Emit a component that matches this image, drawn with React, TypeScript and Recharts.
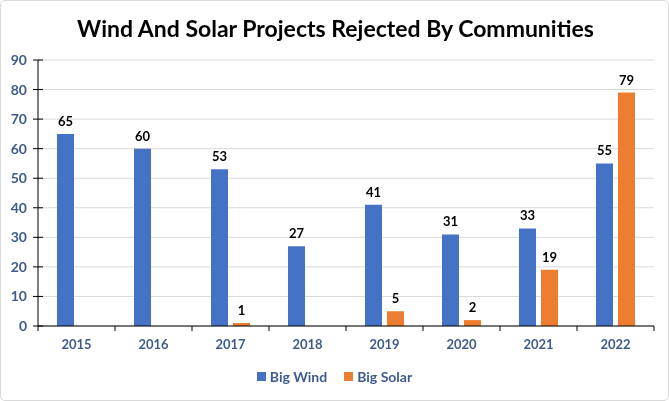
import React from 'react';
import { BarChart, Bar, XAxis, YAxis, CartesianGrid, LabelList, Legend } from 'recharts';

const years = ['2015', '2016', '2017', '2018', '2019', '2020', '2021', '2022'];
const bigWind = [65, 60, 53, 27, 41, 31, 33, 55];
const bigSolar: (number | null)[] = [null, null, 1, null, 5, 2, 19, 79];
const yTicks = [0, 10, 20, 30, 40, 50, 60, 70, 80, 90];
const seriesNames = ['Big Wind', 'Big Solar'];
const title = 'Wind And Solar Projects Rejected By Communities';

const data = years.map((year, i) => ({ year, wind: bigWind[i], solar: bigSolar[i] }));

const W = 669;
const H = 401;
const LEFT = 38;
const RIGHT = 15;
const HALF_BAND = (W - LEFT - RIGHT) / years.length / 2;
const FONT = 'Lato, "Open Sans", sans-serif';
const TICK_COLOR = '#3F5B8C';
const BLUE = '#4472C4';
const ORANGE = '#ED7D31';

const YTick = (props: any) => {
  const { x, y, payload } = props;
  const ax = x + 11;
  return (
    <g>
      <line x1={ax - 5} x2={ax + 5} y1={y} y2={y} stroke="#000" strokeWidth={1} />
      <text x={x} y={y} dy={5} textAnchor="end" fill={TICK_COLOR} fontSize={14} fontWeight={700} fontFamily={FONT}>
        {payload.value}
      </text>
    </g>
  );
};

const XTick = (props: any) => {
  const { x, y, payload, index } = props;
  const left = x - HALF_BAND;
  const right = x + HALF_BAND;
  return (
    <g>
      <line x1={left} x2={left} y1={y} y2={y + 5} stroke="#000" strokeWidth={1} />
      {index === years.length - 1 && (
        <line x1={right} x2={right} y1={y} y2={y + 5} stroke="#000" strokeWidth={1} />
      )}
      <text x={x} y={y + 23} textAnchor="middle" fill={TICK_COLOR} fontSize={13} fontWeight={700} fontFamily={FONT}>
        {payload.value}
      </text>
    </g>
  );
};

const LegendContent = () => (
  <div style={{ display: 'flex', justifyContent: 'center', alignItems: 'center', fontFamily: FONT, fontSize: 14, fontWeight: 700, color: TICK_COLOR }}>
    {[BLUE, ORANGE].map((c, i) => (
      <div key={i} style={{ display: 'flex', alignItems: 'center', marginLeft: i ? 17 : 0 }}>
        <span style={{ display: 'inline-block', width: 9, height: 9, background: c, marginRight: 4 }} />
        <span>{seriesNames[i]}</span>
      </div>
    ))}
  </div>
);

export default function App() {
  return (
    <div
      style={{
        position: 'fixed',
        left: 0,
        top: 0,
        width: W,
        height: H,
        background: '#fff',
        boxSizing: 'border-box',
        border: '1px solid #d9d9d9',
        borderRadius: 5,
        overflow: 'hidden',
      }}
    >
      <div
        style={{
          position: 'absolute',
          top: 13,
          left: 0,
          width: W,
          textAlign: 'center',
          fontFamily: FONT,
          fontWeight: 700,
          fontSize: 23,
          color: '#000',
        }}
      >
        {title}
      </div>
      <div style={{ position: 'absolute', left: -1, top: -1 }}>
        <BarChart
          width={W}
          height={H}
          data={data}
          margin={{ top: 60, right: RIGHT, left: 0, bottom: 25 }}
          barCategoryGap={19}
          barGap={5}
        >
          <CartesianGrid vertical={false} stroke="#d9d9d9" />
          <YAxis
            width={LEFT}
            domain={[0, 90]}
            ticks={yTicks}
            interval={0}
            axisLine={{ stroke: '#000' }}
            tickLine={false}
            tickSize={0}
            tickMargin={11}
            tick={<YTick />}
          />
          <XAxis
            dataKey="year"
            height={30}
            axisLine={{ stroke: '#000' }}
            tickLine={false}
            tickSize={0}
            tickMargin={0}
            interval={0}
            tick={<XTick />}
          />
          <Legend
            content={<LegendContent />}
            wrapperStyle={{ position: 'absolute', top: 368, left: 0, width: W, height: 20 }}
          />
          <Bar dataKey="wind" name={seriesNames[0]} fill={BLUE} isAnimationActive={false}>
            <LabelList dataKey="wind" position="top" offset={8} fill="#000" fontSize={13} fontWeight={700} fontFamily={FONT} />
          </Bar>
          <Bar dataKey="solar" name={seriesNames[1]} fill={ORANGE} isAnimationActive={false}>
            <LabelList dataKey="solar" position="top" offset={8} fill="#000" fontSize={13} fontWeight={700} fontFamily={FONT} />
          </Bar>
        </BarChart>
      </div>
    </div>
  );
}
